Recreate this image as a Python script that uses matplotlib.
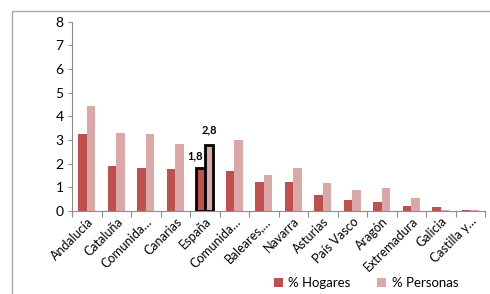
import matplotlib
matplotlib.use("Agg")
import matplotlib.pyplot as plt
from matplotlib.patches import Rectangle
import numpy as np

categories = ["Andalucía", "Cataluña", "Comunida…", "Canarias", "España", "Comunida…",
              "Baleares,…", "Navarra", "Asturias", "País Vasco", "Aragón", "Extremadura",
              "Galicia", "Castilla y…"]
hogares = [3.27, 1.91, 1.82, 1.78, 1.8, 1.67, 1.22, 1.22, 0.69, 0.45, 0.38, 0.22, 0.18, 0.04]
personas = [4.43, 3.31, 3.24, 2.82, 2.8, 3.02, 1.53, 1.80, 1.18, 0.87, 0.96, 0.53, 0.04, 0.04]
highlight = "España"
yticks = [0, 1, 2, 3, 4, 5, 6, 7, 8]

plt.rcParams['font.family'] = ['Lato', 'DejaVu Sans']
c_h = "#C0504D"
c_p = "#DBA8A8"
axis_c = "#8C8C8C"

fig = plt.figure(figsize=(4.9, 2.94), dpi=100)
ax = fig.add_axes([72/490, 1-211/294, (485-72)/490, (211-21.7)/294])

x = np.arange(len(categories))
w = 0.29
hi = categories.index(highlight)
ec_h = ['black' if i == hi else 'none' for i in x]
lw = [2 if i == hi else 0 for i in x]
bh = ax.bar(x - w/2, hogares, w, color=c_h, edgecolor=ec_h, linewidth=lw, label="% Hogares")
bp = ax.bar(x + w/2, personas, w, color=c_p, edgecolor=ec_h, linewidth=lw, label="% Personas")

ax.text(hi - w/2 - 0.17, hogares[hi] + 0.3, f"{hogares[hi]:.1f}".replace('.', ','),
        ha='center', va='bottom', fontsize=8, fontweight='bold')
ax.text(hi + w/2, personas[hi] + 0.4, f"{personas[hi]:.1f}".replace('.', ','),
        ha='center', va='bottom', fontsize=8, fontweight='bold')

ax.set_xlim(-0.5, len(categories) - 0.5)
ax.set_ylim(0, 8)
ax.set_yticks(yticks)
ax.tick_params(axis='y', labelsize=10, length=3, color=axis_c, pad=3)
ax.set_xticks(np.arange(-0.5, len(categories), 1.0))
ax.set_xticklabels([])
ax.set_xticks(x, minor=True)
ax.set_xticklabels(categories, minor=True, rotation=45, ha='right', rotation_mode='anchor', fontsize=9)
ax.tick_params(axis='x', which='major', length=4, color=axis_c)
ax.tick_params(axis='x', which='minor', length=0, pad=3)
for s in ['top', 'right']:
    ax.spines[s].set_visible(False)
for s in ['left', 'bottom']:
    ax.spines[s].set_color(axis_c)

fig.patches.append(Rectangle((12/490, -0.1), 1.2, 1.1 - 11/294, transform=fig.transFigure,
                             fill=False, edgecolor="#A6A6A6", linewidth=1))

fig.legend(handles=[bh, bp], labels=["% Hogares", "% Personas"], ncol=2, loc='center',
           bbox_to_anchor=(366/490, 1-283/294), frameon=False, fontsize=9.5,
           handlelength=0.7, handleheight=0.7, columnspacing=2.0, handletextpad=0.4)

fig.savefig("out.png", dpi=100)
